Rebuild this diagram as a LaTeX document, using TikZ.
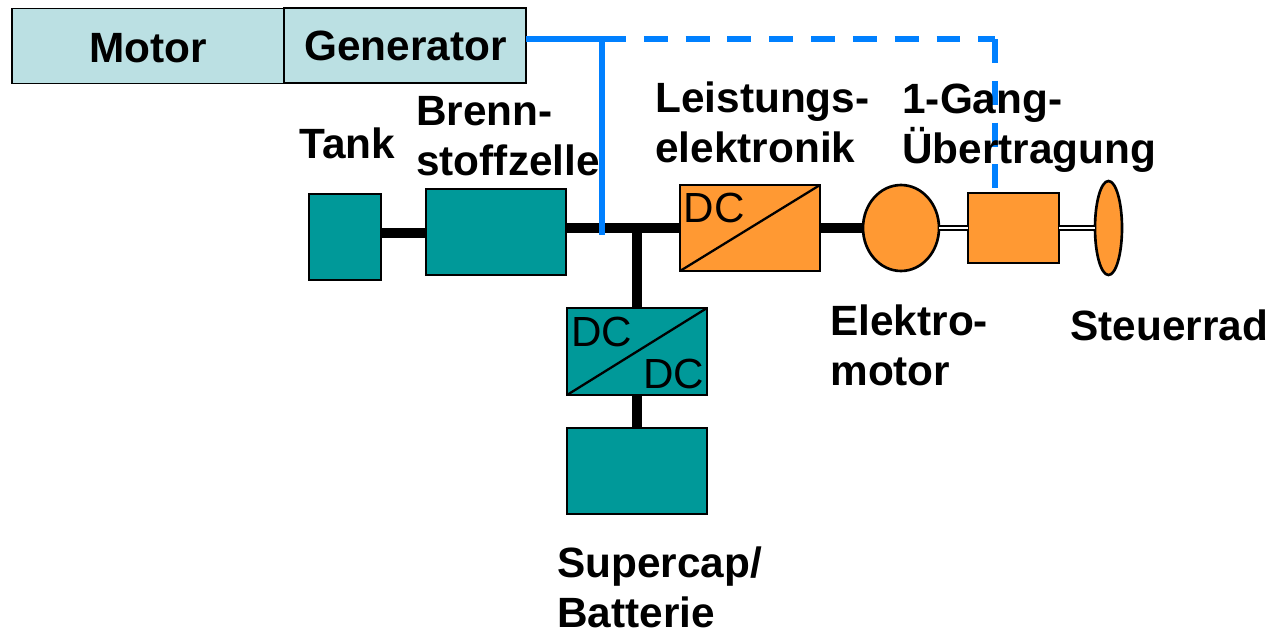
\documentclass[tikz,border=0pt]{standalone}
\usepackage{fontspec}
\setmainfont{Liberation Sans}
\usetikzlibrary{positioning,shapes}
\definecolor{boxteal}{RGB}{0,153,153}
\definecolor{boxorange}{RGB}{255,153,51}
\definecolor{boxpale}{RGB}{187,224,227}
\definecolor{lineblue}{RGB}{0,128,255}

\begin{document}
\begin{tikzpicture}[x=0.02cm,y=-0.02cm,
    lbl/.style={font=\fontsize{24.1}{28.4}\selectfont\bfseries,align=left,anchor=west,inner sep=0pt},
    dctext/.style={font=\fontsize{24}{28}\selectfont,inner sep=0pt},
    blockbox/.style={draw=black,line width=1.5pt,inner sep=0pt,outer sep=0pt},
    tealbox/.style={blockbox,fill=boxteal,minimum width=#1},
    orangebox/.style={blockbox,fill=boxorange,minimum width=#1},
    palebox/.style={draw=black,line width=0.9pt,fill=boxpale,inner sep=0pt,outer sep=0pt,
        minimum width=#1,minimum height=1.5cm},
    bus/.style={line width=5.7pt,black},
    shaft/.style={double=white,double distance=1.2pt,line width=1.2pt,black},
    blueline/.style={line width=3.4pt,lineblue},
    bluedash/.style={blueline,dash pattern=on 13.6pt off 10.2pt}]
    \useasboundingbox (0,0) rectangle (1271,632);
    % Verbrenner
    \node[palebox=5.44cm] (motor) at (148,46) {};
    \node[palebox=4.84cm] (generator) at (405,45.5) {};
    \node[lbl] (motortext) at (89,48) {Motor};
    \node[lbl] (generatortext) at (304,46) {Generator};
    % Brennstoffzellen-Strang (teal)
    \node[tealbox=1.44cm,minimum height=1.72cm] (tank) at (345,237) {};
    \node[tealbox=2.8cm,minimum height=1.72cm] (cell) at (496,232) {};
    \node[tealbox=2.8cm,minimum height=1.74cm] (dcdc) at (637,351.5) {};
    \node[tealbox=2.8cm,minimum height=1.72cm] (battery) at (637,471) {};
    % Antrieb (orange)
    \node[orangebox=2.8cm,minimum height=1.72cm] (conv) at (750,228) {};
    \node[orangebox=1.82cm,minimum height=1.4cm] (gear) at (1013.5,228) {};
    \node[ellipse,orangebox=1.52cm,minimum height=1.72cm] (emotor) at (901,228) {};
    \node[ellipse,orangebox=0.54cm,minimum height=1.88cm] (wheel) at (1108.5,228) {};
    \coordinate (busjoin) at (637,228);
    \coordinate (bluejoin) at (602,39);
    \coordinate (blueend) at (602,235);
    \coordinate (bluecorner) at (995,39);
    % Leitungen
    \draw[bus] ([yshift=-0.5pt]cell.west -| tank.east) -- ([yshift=-0.5pt]cell.west);
    \draw[bus] (busjoin -| cell.east) -- (busjoin -| conv.west);
    \draw[bus] (busjoin) -- (busjoin |- dcdc.north);
    \draw[bus] (dcdc.south -| busjoin) -- (battery.north -| busjoin);
    \draw[bus] (conv.east) -- (emotor.west);
    \draw[shaft] (emotor.east) -- (gear.west);
    \draw[shaft] (gear.east) -- (wheel.west);
    \draw[blueline] (bluejoin -| generator.east) -- (bluejoin) -- (blueend);
    \draw[bluedash] (bluejoin) -- (bluecorner);
    \draw[bluedash] (bluecorner) -- (gear.north -| bluecorner);
    % Wandler
    \draw[line width=1.3pt] (conv.south west) -- (conv.north east);
    \draw[line width=1.3pt] (dcdc.south west) -- (dcdc.north east);
    \node[dctext] (convdc) at (714,208) {DC};
    \node[dctext] (dcdcin) at (601.5,332) {DC};
    \node[dctext] (dcdcout) at (673.5,374) {DC};
    % Beschriftung
    \node[lbl] (tanklabel) at (299,143.5) {Tank};
    \node[lbl] (celllabel) at (416,136) {Brenn-\\stoffzelle};
    \node[lbl] (convlabel) at (655,122) {Leistungs-\\elektronik};
    \node[lbl] (gearlabel) at (902,128) {1-Gang-\\Übertragung};
    \node[lbl] (motorlabel) at (830,345.5) {Elektro-\\motor};
    \node[lbl] (wheellabel) at (1070,325) {Steuerrad};
    \node[lbl] (batterylabel) at (557,587.5) {Supercap/\\Batterie};
\end{tikzpicture}
\end{document}
